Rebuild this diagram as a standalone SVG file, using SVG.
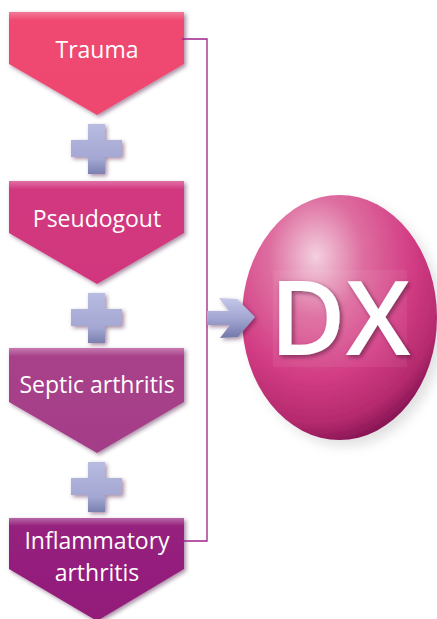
<svg xmlns="http://www.w3.org/2000/svg" width="437" height="619" viewBox="0 0 437 619">
<defs>
<style>
.lbl{font-family:"Open Sans","Liberation Sans",sans-serif;font-size:23px;fill:#ffffff;text-anchor:middle}
.plus{fill:url(#gPlus);filter:url(#sh)}
.conn{fill:none;stroke:#a0208a;stroke-width:1.3}
</style>
<filter id="sh" x="-20%" y="-20%" width="150%" height="150%">
<feDropShadow dx="2" dy="2" stdDeviation="2" flood-color="#3a1030" flood-opacity="0.45"/>
</filter>
<filter id="shSphere" x="-20%" y="-20%" width="150%" height="150%">
<feDropShadow dx="6" dy="6" stdDeviation="6" flood-color="#000000" flood-opacity="0.12"/>
</filter>
<filter id="txtSh" x="-20%" y="-20%" width="150%" height="150%">
<feDropShadow dx="2" dy="2" stdDeviation="2" flood-color="#4a0a30" flood-opacity="0.6"/>
</filter>
<linearGradient id="g1" x1="0" y1="0" x2="0" y2="1">
<stop offset="0" stop-color="#f27a98"/><stop offset="0.08" stop-color="#ef4a72"/><stop offset="1" stop-color="#ee4670"/>
</linearGradient>
<linearGradient id="g2" x1="0" y1="0" x2="0" y2="1">
<stop offset="0" stop-color="#e070a6"/><stop offset="0.08" stop-color="#d2397f"/><stop offset="1" stop-color="#d0367d"/>
</linearGradient>
<linearGradient id="g3" x1="0" y1="0" x2="0" y2="1">
<stop offset="0" stop-color="#c67ab0"/><stop offset="0.08" stop-color="#a8418a"/><stop offset="1" stop-color="#a43d87"/>
</linearGradient>
<linearGradient id="g4" x1="0" y1="0" x2="0" y2="1">
<stop offset="0" stop-color="#b666a8"/><stop offset="0.08" stop-color="#95207c"/><stop offset="1" stop-color="#931e7a"/>
</linearGradient>
<linearGradient id="gPlus" x1="0" y1="0" x2="0" y2="1">
<stop offset="0" stop-color="#b8bce0"/><stop offset="0.7" stop-color="#a3a7d2"/><stop offset="1" stop-color="#7c80b0"/>
</linearGradient>
<linearGradient id="gArrow" x1="0" y1="0" x2="0" y2="1">
<stop offset="0" stop-color="#c4c7e8"/><stop offset="0.5" stop-color="#a3a7d2"/><stop offset="1" stop-color="#7378aa"/>
</linearGradient>
<radialGradient id="gSphere" cx="0.38" cy="0.25" r="0.8">
<stop offset="0" stop-color="#f3d0df"/><stop offset="0.3" stop-color="#de6ea0"/><stop offset="0.62" stop-color="#d23c84"/><stop offset="0.85" stop-color="#b52a6e"/><stop offset="1" stop-color="#7a0f4e"/>
</radialGradient>
</defs>

<g id="node-trauma">
<polygon points="9,12 184,12 184,64 97,115 9,64" fill="url(#g1)" filter="url(#sh)"/>
<text class="lbl" x="97" y="58">Trauma</text>
</g>
<g id="plus-1"><path class="plus" d="M88,124h17v16h17v17h-17v17h-17v-17h-17v-17h17z"/></g>

<g id="node-pseudogout">
<polygon points="9,181 184,181 184,233 97,284 9,233" fill="url(#g2)" filter="url(#sh)"/>
<text class="lbl" x="97" y="227">Pseudogout</text>
</g>
<g id="plus-2"><path class="plus" d="M88,293h17v16h17v17h-17v17h-17v-17h-17v-17h17z"/></g>

<g id="node-septic">
<polygon points="9,348 184,348 184,402 97,453 9,402" fill="url(#g3)" filter="url(#sh)"/>
<text class="lbl" x="97" y="393">Septic arthritis</text>
</g>
<g id="plus-3"><path class="plus" d="M88,462h17v16h17v17h-17v17h-17v-17h-17v-17h17z"/></g>

<g id="node-inflammatory">
<polygon points="9,518 184,518 184,569 97,621 9,569" fill="url(#g4)" filter="url(#sh)"/>
<text class="lbl" x="97" y="549">Inflammatory</text>
<text class="lbl" x="97" y="581">arthritis</text>
</g>

<g id="node-dx">
<ellipse cx="339.5" cy="317.5" rx="97.5" ry="122.5" fill="url(#gSphere)" filter="url(#shSphere)"/>
<rect x="273" y="270" width="134" height="97" fill="#ffffff" fill-opacity="0.06"/>
<text x="340" y="355" font-family="'Open Sans','Liberation Sans',sans-serif" font-weight="600" font-size="104" fill="#ffffff" text-anchor="middle" filter="url(#txtSh)">DX</text>
</g>

<g id="connectors">
<polyline class="conn" points="182,39 207,39 207,541 182,541"/>
<polygon id="arrow" points="207,311 229,311 219,298 237,299 255,317 238,337 220,338 230,325 207,325" fill="url(#gArrow)" filter="url(#sh)"/>
</g>
</svg>
